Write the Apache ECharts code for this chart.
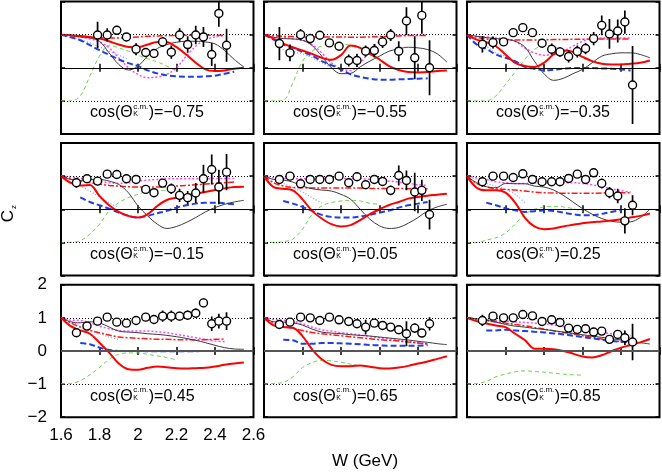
<!DOCTYPE html>
<html><head><meta charset="utf-8">
<script src="https://cdn.jsdelivr.net/npm/echarts@6/dist/echarts.min.js"></script>
<style>html,body{margin:0;padding:0;background:#fff}#c{width:662px;height:472px}</style>
</head><body><div id="c"></div>
<script>
// ---------- DATA ----------
const cosLabels = ['\u22120.75','\u22120.55','\u22120.35','\u22120.15','0.05','0.25','0.45','0.65','0.85'];
const xTickLabels = ['1.6','1.8','2','2.2','2.4','2.6'];
const yTickLabels = ['\u22122','\u22121','0','1','2'];
const pointW = [1.68,1.735,1.79,1.84,1.89,1.94,1.99,2.04,2.083,2.128,2.173,2.216,2.258,2.30,2.34,2.383,2.42,2.46];
const curveW = [1.60,1.65,1.70,1.75,1.80,1.85,1.90,1.95,2.00,2.05,2.10,2.15,2.20,2.25,2.30,2.35,2.40,2.45,2.50,2.55];
const N = null;

// panel 1  cos = -0.75
const p1_Cz  = [N,N,0.99,0.99,1.13,0.93,0.56,0.46,0.43,0.78,0.47,0.99,0.70,0.99,0.93,0.40,1.64,0.68];
const p1_err = [N,N,0.40,0.20,0.10,0.08,0.18,0.10,0.12,0.15,0.20,0.20,0.25,0.28,0.30,0.35,0.40,0.50];
const p1_red     = [1.0,0.98,0.96,0.93,0.88,0.80,0.70,0.63,0.62,0.70,0.78,0.77,0.62,0.40,0.15,-0.05,-0.10,-0.08,-0.03,0.0];
const p1_black   = [1.0,0.97,0.93,0.90,0.80,0.45,0.10,-0.07,0.05,0.35,0.58,0.70,0.77,0.80,0.80,0.78,0.72,0.52,0.25,0.02];
const p1_blueDash= [1.0,0.92,0.83,0.68,0.53,0.39,0.25,0.14,0.05,-0.08,-0.17,-0.23,-0.26,-0.27,-0.27,-0.26,-0.24,-0.18,-0.12,N];
const p1_blueDot = [1.0,0.93,0.85,0.75,0.63,0.50,0.38,0.25,N,N,N,N,N,N,N,N,N,N,N,N];
const p1_magenta = [1.0,0.97,0.93,0.87,0.78,0.60,0.30,0.0,-0.2,-0.3,-0.28,-0.2,0.0,0.35,0.65,0.85,0.93,0.97,N,N];
const p1_redDD   = [1.0,0.98,0.95,0.93,0.91,0.90,0.90,0.91,0.93,0.95,0.96,0.97,0.97,0.98,0.98,0.98,0.98,0.98,N,N];
const p1_green   = [-1.0,-1.0,-0.85,-0.25,0.35,0.68,0.60,0.50,0.38,0.27,0.18,0.05,-0.10,N,N,N,N,N,N,N];

// panel 2  cos = -0.55
const p2_Cz  = [0.73,0.45,1.0,0.88,0.98,0.75,0.65,0.22,0.22,0.50,0.52,0.78,0.99,0.50,1.41,0.30,1.58,0.0];
const p2_err = [0.50,0.25,0.17,0.15,0.07,0.07,0.08,0.18,0.20,0.17,0.20,0.18,0.18,0.30,0.42,0.65,0.55,0.83];
const p2_red     = [1.0,0.88,0.73,0.62,0.52,0.42,0.30,0.24,0.38,0.67,0.60,0.42,0.25,0.05,-0.07,-0.13,-0.14,-0.13,-0.10,-0.08];
const p2_black   = [1.0,0.92,0.88,0.87,0.83,0.67,0.35,0.0,-0.18,-0.17,0.03,0.20,0.35,0.50,0.57,0.62,0.60,0.55,0.42,0.17];
const p2_blueDash= [1.0,0.85,0.70,0.60,0.48,0.36,0.20,0.08,-0.05,-0.20,-0.28,-0.33,-0.36,-0.36,-0.35,-0.34,-0.33,-0.32,N,N];
const p2_blueDot = [1.0,0.85,0.55,0.48,0.42,0.30,0.15,0.02,N,N,N,N,N,N,N,N,N,N,N,N];
const p2_magenta = [1.0,0.96,0.93,0.87,0.83,0.70,0.45,0.15,-0.03,-0.08,0.15,0.50,0.80,0.95,0.98,0.98,0.98,0.98,N,N];
const p2_redDD   = [1.0,0.97,0.95,0.94,0.93,0.93,0.93,0.93,0.93,0.92,0.92,0.93,0.94,0.95,0.96,0.97,0.97,0.97,N,N];
const p2_green   = [-1.0,-1.0,-0.98,-0.45,0.20,0.50,0.66,0.72,0.72,0.67,0.55,N,N,N,N,N,N,N,N,N];

// panel 3  cos = -0.35
const p3_Cz  = [0.71,0.76,0.78,1.06,1.21,1.06,0.74,0.56,0.48,0.34,0.49,0.58,0.88,1.28,1.02,1.11,1.38,-0.52];
const p3_err = [0.25,0.18,0.10,0.07,0.06,0.06,0.07,0.17,0.15,0.18,0.18,0.17,0.20,0.30,0.45,0.35,0.35,1.18];
const p3_red     = [1.0,0.85,0.77,0.65,0.40,0.15,0.05,0.02,0.15,0.40,0.52,0.48,0.33,0.20,0.12,0.10,0.10,0.12,0.15,0.22];
const p3_black   = [1.0,0.95,0.91,0.88,0.86,0.80,0.63,0.20,-0.18,-0.38,-0.32,-0.18,-0.05,0.15,0.35,0.42,0.45,0.45,0.40,0.30];
const p3_blueDash= [1.0,0.70,0.57,0.40,0.30,0.20,0.03,-0.03,-0.08,-0.06,-0.03,-0.01,-0.01,-0.01,-0.02,-0.03,-0.05,-0.08,N,N];
const p3_blueDot = [1.0,0.85,0.65,0.45,0.35,0.20,0.10,N,N,N,N,N,N,N,N,N,N,N,N,N];
const p3_magenta = [1.0,0.95,0.93,0.90,0.87,0.80,0.60,0.45,0.38,0.40,0.50,0.65,0.80,0.88,0.90,0.90,0.90,0.90,N,N];
const p3_redDD   = [1.0,0.92,0.87,0.85,0.84,0.84,0.84,0.84,0.84,0.85,0.85,0.86,0.86,0.87,0.87,0.87,0.87,0.87,N,N];
const p3_green   = [-1.0,-1.0,-1.0,-0.85,-0.50,-0.13,0.25,0.55,0.67,0.65,0.45,N,N,N,N,N,N,N,N,N];

// panel 4  cos = -0.15
const p4_Cz  = [0.80,0.92,0.85,1.06,1.05,0.92,0.90,0.60,0.50,0.79,0.62,0.42,0.35,0.49,0.92,1.20,0.67,1.12];
const p4_err = [0.15,0.10,0.08,0.05,0.05,0.05,0.05,0.07,0.10,0.10,0.16,0.20,0.20,0.30,0.42,0.45,0.52,0.55];
const p4_red     = [1.0,0.80,0.72,0.73,0.40,0.12,-0.08,-0.20,-0.25,-0.15,0.10,0.28,0.35,0.42,0.47,0.52,0.58,0.63,0.67,0.68];
const p4_black   = [1.0,0.90,0.87,0.90,0.90,0.85,0.75,0.50,0.10,-0.20,-0.45,-0.58,-0.52,-0.40,-0.25,-0.08,0.05,0.15,0.22,0.27];
const p4_blueDash= [N,N,0.36,0.22,0.12,0.02,-0.10,-0.20,-0.25,-0.20,-0.12,-0.05,0.05,0.12,0.17,0.20,0.20,0.18,0.15,N];
const p4_blueDot = [1.0,0.90,0.72,0.55,0.38,0.20,0.05,N,N,N,N,N,N,N,N,N,N,N,N,N];
const p4_magenta = [1.0,0.97,0.94,0.90,0.85,0.80,0.78,0.80,0.85,0.88,0.90,0.92,0.92,0.92,0.92,0.92,0.93,0.93,0.93,N];
const p4_redDD   = [1.0,0.92,0.85,0.80,0.76,0.72,0.70,0.68,0.67,0.67,0.67,0.68,0.70,0.72,0.74,0.76,0.78,0.80,0.82,N];
const p4_green   = [-1.0,-1.0,-0.95,-0.75,-0.45,-0.05,0.20,0.35,0.45,0.55,0.58,0.55,N,N,N,N,N,N,N,N];

// panel 5  cos = 0.05
const p5_Cz  = [0.90,1.0,0.77,0.90,0.90,0.90,1.0,0.80,0.98,0.74,0.90,0.84,0.57,1.02,0.87,0.52,0.57,-0.16];
const p5_err = [0.12,0.05,0.08,0.05,0.05,0.05,0.05,0.05,0.05,0.07,0.07,0.08,0.15,0.30,0.30,0.58,0.32,0.45];
const p5_red     = [1.0,0.67,0.62,0.57,0.30,-0.05,-0.28,-0.45,-0.52,-0.48,-0.33,-0.15,0.0,0.13,0.22,0.32,0.37,0.41,0.44,0.47];
const p5_black   = [1.0,0.90,0.88,0.82,0.70,0.62,0.58,0.55,0.45,0.30,0.0,-0.30,-0.50,-0.58,-0.55,-0.42,-0.25,-0.05,0.07,0.15];
const p5_blueDash= [N,N,0.25,0.17,0.07,-0.05,-0.17,-0.23,-0.25,-0.25,-0.22,-0.17,-0.10,-0.04,0.05,0.12,0.17,0.22,N,N];
const p5_blueDot = [1.0,0.88,0.78,0.65,0.52,0.35,0.18,N,N,N,N,N,N,N,N,N,N,N,N,N];
const p5_magenta = [1.0,0.95,0.93,0.92,0.92,0.92,0.93,0.93,0.93,0.93,0.92,0.90,0.88,0.85,0.82,0.78,0.74,0.72,N,N];
const p5_redDD   = [1.0,0.80,0.70,0.66,0.65,0.64,0.64,0.64,0.64,0.64,0.64,0.63,0.63,0.63,0.63,0.62,0.62,0.62,N,N];
const p5_green   = [-1.0,-1.0,-0.98,-0.90,-0.60,-0.15,0.10,0.20,0.25,0.27,0.25,0.18,0.15,N,N,N,N,N,N,N];

// panel 6  cos = 0.25
const p6_Cz  = [0.83,1.0,1.0,0.96,1.07,0.90,0.83,0.83,0.83,0.93,1.06,0.90,1.10,0.78,0.50,0.40,-0.35,0.12];
const p6_err = [0.15,0.05,0.05,0.05,0.05,0.05,0.05,0.05,0.05,0.05,0.05,0.05,0.07,0.15,0.17,0.22,0.38,0.30];
const p6_red     = [1.0,0.65,0.57,0.57,0.50,0.20,-0.25,-0.52,-0.60,-0.58,-0.52,-0.47,-0.42,-0.39,-0.37,-0.34,-0.30,-0.25,-0.20,-0.13];
const p6_black   = [1.0,0.80,0.68,0.65,0.78,0.77,0.77,0.70,0.67,0.58,0.42,0.22,0.02,-0.15,-0.28,-0.36,-0.39,-0.38,-0.25,0.0];
const p6_blueDash= [N,N,0.20,0.12,0.03,-0.03,-0.08,-0.06,-0.04,-0.05,-0.10,-0.15,-0.18,-0.18,-0.14,-0.08,-0.03,N,N,N];
const p6_blueDot = [1.0,0.90,0.78,0.70,0.60,0.45,0.20,N,N,N,N,N,N,N,N,N,N,N,N,N];
const p6_magenta = [1.0,0.95,0.90,0.83,0.80,0.78,0.78,0.79,0.80,0.80,0.80,0.80,0.78,0.74,0.68,0.62,0.56,0.52,N,N];
const p6_redDD   = [1.0,0.78,0.68,0.62,0.60,0.58,0.55,0.52,0.50,0.49,0.48,0.48,0.48,0.48,0.49,0.50,0.50,0.50,N,N];
const p6_green   = [-1.0,-1.0,-0.93,-0.86,-0.72,-0.45,-0.15,0.0,0.07,0.09,0.07,0.02,-0.06,N,N,N,N,N,N,N];

// panel 7  cos = 0.45
const p7_Cz  = [0.55,0.75,0.90,1.02,0.87,0.84,0.92,1.02,0.95,1.05,1.05,1.05,1.08,1.14,1.45,0.82,0.90,0.90];
const p7_err = [0.12,0.12,0.07,0.05,0.07,0.07,0.07,0.05,0.07,0.17,0.17,0.13,0.13,0.14,0.13,0.22,0.22,0.27];
const p7_red     = [1.0,0.75,0.62,0.52,0.25,-0.05,-0.38,-0.55,-0.57,-0.51,-0.47,-0.49,-0.52,-0.53,-0.52,-0.51,-0.47,-0.42,-0.38,-0.35];
const p7_black   = [1.0,0.88,0.85,0.88,0.85,0.72,0.60,0.57,0.55,0.52,0.50,0.47,0.43,0.38,0.32,0.25,0.17,0.10,0.06,0.05];
const p7_blueDash= [N,N,0.24,0.20,0.10,0.03,0.0,0.0,0.0,-0.01,-0.01,-0.01,-0.01,-0.01,-0.01,0.0,0.0,0.01,N,N];
const p7_blueDot = [1.0,0.90,0.75,0.60,0.52,0.42,0.35,N,N,N,N,N,N,N,N,N,N,N,N,N];
const p7_magenta = [1.0,0.93,0.92,0.85,0.75,0.67,0.62,0.60,0.60,0.60,0.58,0.55,0.50,0.45,0.40,0.35,0.30,0.28,N,N];
const p7_redDD   = [1.0,0.85,0.72,0.62,0.55,0.48,0.42,0.40,0.38,0.37,0.35,0.35,0.34,0.34,0.33,0.34,0.35,0.36,N,N];
const p7_green   = [-0.98,-0.98,-0.90,-0.72,-0.50,-0.25,-0.10,-0.06,-0.06,-0.10,-0.15,-0.20,-0.27,N,N,N,N,N,N,N];

// panel 8  cos = 0.65
const p8_Cz  = [0.80,0.87,1.02,1.0,0.92,1.02,0.94,0.89,0.82,0.72,0.84,0.77,0.72,0.64,0.52,0.69,0.54,0.82];
const p8_err = [0.07,0.07,0.05,0.05,0.05,0.05,0.05,0.05,0.05,0.22,0.05,0.05,0.05,0.07,0.38,0.15,0.12,0.20];
const p8_red     = [1.0,0.77,0.72,0.70,0.45,0.05,-0.25,-0.42,-0.46,-0.46,-0.44,-0.48,-0.52,-0.53,-0.50,-0.45,-0.38,-0.32,-0.24,-0.16];
const p8_black   = [1.0,0.88,0.87,0.85,0.78,0.66,0.57,0.54,0.52,0.49,0.47,0.45,0.42,0.39,0.36,0.33,0.29,0.26,0.22,0.19];
const p8_blueDash= [N,N,0.34,0.32,0.22,0.22,0.24,0.24,0.23,0.22,0.20,0.18,0.17,0.16,0.16,0.16,0.16,0.17,N,N];
const p8_blueDot = [1.0,0.88,0.75,0.68,0.60,0.50,N,N,N,N,N,N,N,N,N,N,N,N,N,N];
const p8_magenta = [1.0,0.95,0.93,0.90,0.82,0.72,0.64,0.60,0.55,0.52,0.48,0.44,0.40,0.36,0.32,0.28,0.25,0.22,N,N];
const p8_redDD   = [1.0,0.85,0.74,0.68,0.62,0.56,0.52,0.49,0.46,0.43,0.40,0.37,0.34,0.32,0.30,0.27,0.24,0.21,N,N];
const p8_green   = [-1.0,-0.98,-0.95,-0.78,-0.50,-0.35,-0.28,-0.30,-0.34,-0.40,-0.45,N,N,N,N,N,N,N,N,N];

// panel 9  cos = 0.85
const p9_Cz  = [0.92,1.05,1.0,1.0,1.10,1.06,0.89,0.94,0.86,0.69,0.65,0.67,0.57,0.60,0.35,0.50,0.40,0.27];
const p9_err = [0.17,0.05,0.05,0.05,0.05,0.05,0.05,0.05,0.05,0.05,0.05,0.05,0.05,0.05,0.12,0.13,0.22,0.55];
const p9_red     = [1.0,0.90,0.83,0.77,0.72,0.52,0.33,0.07,0.07,0.05,0.0,-0.08,-0.17,-0.20,-0.13,-0.01,0.10,0.18,0.26,0.36];
const p9_black   = [1.0,0.97,0.93,0.87,0.80,0.75,0.72,0.68,0.65,0.61,0.57,0.53,0.49,0.45,0.41,0.37,0.33,0.29,0.25,0.21];
const p9_blueDash= [N,N,0.62,0.62,0.64,0.62,0.60,0.58,0.56,0.53,0.50,0.46,0.42,0.38,0.34,0.30,0.28,0.27,N,N];
const p9_blueDot = [1.0,0.95,0.90,0.87,0.84,0.80,N,N,N,N,N,N,N,N,N,N,N,N,N,N];
const p9_magenta = [1.0,0.97,0.94,0.92,0.90,0.88,0.86,0.84,0.82,0.78,0.74,0.70,0.65,0.60,0.56,0.52,0.48,0.47,N,N];
const p9_redDD   = [1.0,0.96,0.92,0.88,0.84,0.80,0.76,0.71,0.66,0.61,0.56,0.51,0.46,0.41,0.36,0.31,0.28,0.26,N,N];
const p9_green   = [-1.0,-0.98,-0.92,-0.78,-0.70,-0.63,-0.60,-0.62,-0.64,-0.67,-0.70,-0.72,-0.73,N,N,N,N,N,N,N];

// ---------- BUILD ----------
const panels = [
  {Cz:p1_Cz,err:p1_err,green:p1_green,blueDot:p1_blueDot,magenta:p1_magenta,redDD:p1_redDD,blueDash:p1_blueDash,black:p1_black,red:p1_red},
  {Cz:p2_Cz,err:p2_err,green:p2_green,blueDot:p2_blueDot,magenta:p2_magenta,redDD:p2_redDD,blueDash:p2_blueDash,black:p2_black,red:p2_red},
  {Cz:p3_Cz,err:p3_err,green:p3_green,blueDot:p3_blueDot,magenta:p3_magenta,redDD:p3_redDD,blueDash:p3_blueDash,black:p3_black,red:p3_red},
  {Cz:p4_Cz,err:p4_err,green:p4_green,blueDot:p4_blueDot,magenta:p4_magenta,redDD:p4_redDD,blueDash:p4_blueDash,black:p4_black,red:p4_red},
  {Cz:p5_Cz,err:p5_err,green:p5_green,blueDot:p5_blueDot,magenta:p5_magenta,redDD:p5_redDD,blueDash:p5_blueDash,black:p5_black,red:p5_red},
  {Cz:p6_Cz,err:p6_err,green:p6_green,blueDot:p6_blueDot,magenta:p6_magenta,redDD:p6_redDD,blueDash:p6_blueDash,black:p6_black,red:p6_red},
  {Cz:p7_Cz,err:p7_err,green:p7_green,blueDot:p7_blueDot,magenta:p7_magenta,redDD:p7_redDD,blueDash:p7_blueDash,black:p7_black,red:p7_red},
  {Cz:p8_Cz,err:p8_err,green:p8_green,blueDot:p8_blueDot,magenta:p8_magenta,redDD:p8_redDD,blueDash:p8_blueDash,black:p8_black,red:p8_red},
  {Cz:p9_Cz,err:p9_err,green:p9_green,blueDot:p9_blueDot,magenta:p9_magenta,redDD:p9_redDD,blueDash:p9_blueDash,black:p9_black,red:p9_red}
];

const curveStyles = [
  {key:'green',    color:'#6fd34f', width:1,   type:[4,3]},
  {key:'blueDot',  color:'#7f9cff', width:1.2, type:[1,2]},
  {key:'magenta',  color:'#ff44ff', width:1.5, type:[2,2]},
  {key:'redDD',    color:'#ff1a1a', width:1.5, type:[6,2,2,2]},
  {key:'blueDash', color:'#1f3fe6', width:2,   type:[6,3]},
  {key:'black',    color:'#3a3a3a', width:1,   type:'solid'},
  {key:'red',      color:'#ff0000', width:2,   type:'solid'}
];

const FONT = '"Liberation Sans", Arial, Helvetica, sans-serif';
const colLeft = [61, 264, 467], rowTop = [1.5, 143, 284.7], PW = 192.5, PH = 132.5;

const grid = [], xAxis = [], yAxis = [], series = [], graphic = [];
const tick = {inside:true, length:4, lineStyle:{color:'#000', width:1.5}};
const dotted = {type:[1,2], color:'#000', width:1};

const ctx = document.createElement('canvas').getContext('2d');
function tw(t, size){ ctx.font = size + 'px ' + FONT; return ctx.measureText(t).width; }

panels.forEach((p, i) => {
  const col = i % 3, row = Math.floor(i / 3);
  const showLab = (i === 6);
  grid.push({left:colLeft[col], top:rowTop[row], width:PW, height:PH, show:true,
             borderColor:'#000', borderWidth:2, backgroundColor:'rgba(0,0,0,0)'});
  xAxis.push({gridIndex:i, type:'value', min:1.6, max:2.6, interval:0.2, position:'bottom',
    axisLine:{show:false}, splitLine:{show:false}, axisTick:tick,
    axisLabel:{show:showLab, margin:10, fontSize:17, color:'#000', fontFamily:FONT,
      formatter:v => xTickLabels[Math.round((v - 1.6) / 0.2)]}});
  xAxis.push({gridIndex:i, type:'value', min:1.6, max:2.6, interval:0.2, position:'top',
    axisLine:{show:false}, splitLine:{show:false}, axisTick:tick, axisLabel:{show:false}});
  yAxis.push({gridIndex:i, type:'value', min:-2, max:2, interval:1, position:'left',
    axisLine:{show:false}, splitLine:{show:false}, axisTick:tick,
    axisLabel:{show:showLab, margin:14, fontSize:17, color:'#000', fontFamily:FONT,
      formatter:v => yTickLabels[Math.round(v + 2)]}});
  yAxis.push({gridIndex:i, type:'value', min:-2, max:2, interval:1, position:'right',
    axisLine:{show:false}, splitLine:{show:false}, axisTick:tick, axisLabel:{show:false}});
  const xi = 2 * i, yi = 2 * i;

  // reference lines
  series.push({type:'line', xAxisIndex:xi, yAxisIndex:yi, data:[], silent:true, z:1,
    markLine:{silent:true, symbol:['none','none'], label:{show:false}, animation:false,
      data:[
        {yAxis:1, lineStyle:dotted},
        {yAxis:0, lineStyle:{type:'solid', color: row === 2 ? '#555' : '#000', width: row === 2 ? 2 : 1}},
        {yAxis:-1, lineStyle:dotted}
      ]}});

  // model curves
  curveStyles.forEach((s, k) => {
    series.push({type:'line', xAxisIndex:xi, yAxisIndex:yi, silent:true, animation:false,
      showSymbol:false, symbol:'none', smooth:0.35, z:2 + k * 0.01,
      lineStyle:{color:s.color, width:s.width, type:s.type},
      data: curveW.map((w, j) => [w, p[s.key][j]])});
  });

  // data points with error bars
  const pts = [], bars = [];
  pointW.forEach((w, j) => {
    if (p.Cz[j] === null) return;
    pts.push([w, p.Cz[j]]);
    bars.push([w, p.Cz[j] - p.err[j], p.Cz[j] + p.err[j]]);
  });
  series.push({type:'custom', xAxisIndex:xi, yAxisIndex:yi, silent:true, animation:false, clip:true, z:4,
    encode:{x:0, y:[1,2]}, data:bars,
    renderItem:(params, api) => {
      const a = api.coord([api.value(0), api.value(1)]);
      const b = api.coord([api.value(0), api.value(2)]);
      return {type:'line', shape:{x1:a[0], y1:a[1], x2:b[0], y2:b[1]},
              style:{stroke:'#000', lineWidth:1.7}};
    }});
  series.push({type:'scatter', xAxisIndex:xi, yAxisIndex:yi, silent:true, animation:false, z:5,
    symbol:'circle', symbolSize:8,
    itemStyle:{color:'#ffffff', opacity:1, borderColor:'#000', borderWidth:1.4}, data:pts});

  // annotation cos(Theta_K^{c.m.}) = value
  const w1 = tw('cos(\u0398', 16), ws = tw('c.m.', 8);
  graphic.push({type:'group', x:colLeft[col] + 29, y:rowTop[row] + 111.5, silent:true, children:[
    {type:'text', x:0, y:0, style:{text:'cos(\u0398', font:'16px ' + FONT, fill:'#000', verticalAlign:'middle', textVerticalAlign:'middle'}},
    {type:'text', x:w1 + 0.5, y:-6, style:{text:'c.m.', font:'8px ' + FONT, fill:'#000', verticalAlign:'middle', textVerticalAlign:'middle'}},
    {type:'text', x:w1 + 0.5, y:1.5, style:{text:'K', font:'7px ' + FONT, fill:'#000', verticalAlign:'middle', textVerticalAlign:'middle'}},
    {type:'text', x:w1 + ws + 1, y:0, style:{text:')=' + cosLabels[i], font:'16px ' + FONT, fill:'#000', verticalAlign:'middle', textVerticalAlign:'middle'}}
  ]});
});

// axis titles
graphic.push({type:'text', x:365, y:461, silent:true,
  style:{text:'W (GeV)', font:'17px ' + FONT, fill:'#000', align:'center', textAlign:'center', verticalAlign:'middle', textVerticalAlign:'middle'}});
graphic.push({type:'group', x:8.5, y:216, rotation:Math.PI / 2, silent:true, children:[
  {type:'text', x:0, y:0, style:{text:'C', font:'17px ' + FONT, fill:'#000', align:'center', textAlign:'center', verticalAlign:'middle', textVerticalAlign:'middle'}},
  {type:'text', x:9, y:5.5, style:{text:'z', font:'8px ' + FONT, fill:'#000', align:'center', textAlign:'center', verticalAlign:'middle', textVerticalAlign:'middle'}}
]});

const chart = echarts.init(document.getElementById('c'), null, {renderer:'canvas'});
chart.setOption({
  animation:false,
  backgroundColor:'#fff',
  grid, xAxis, yAxis, series, graphic
});
</script></body></html>
